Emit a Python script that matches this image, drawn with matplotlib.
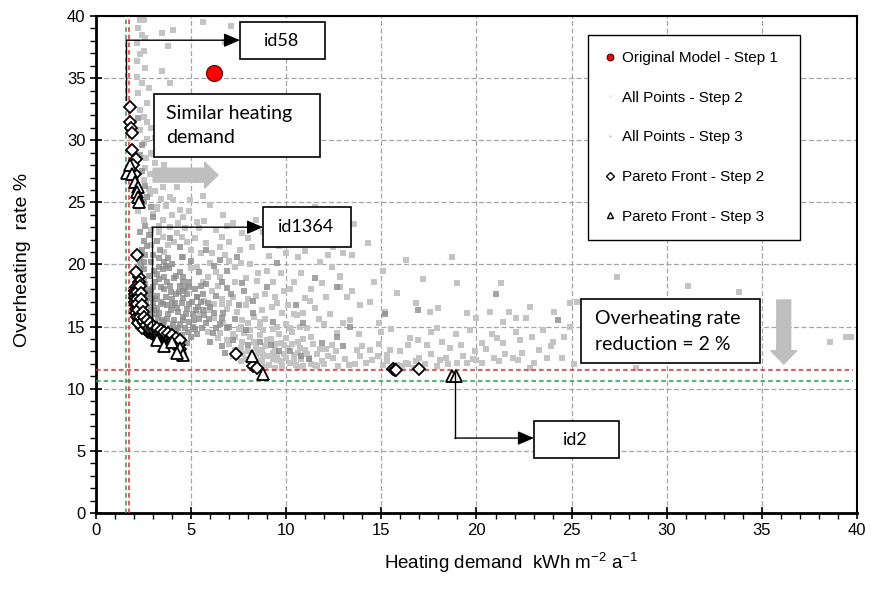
import matplotlib
matplotlib.use("Agg")
import matplotlib.pyplot as plt
import numpy as np
from matplotlib.lines import Line2D
from matplotlib.patches import Rectangle
from matplotlib.ticker import MultipleLocator

plt.rcParams["font.family"] = ["Liberation Sans", "DejaVu Sans"]
plt.rcParams["mathtext.default"] = "regular"
BOXFONT = ["Lato", "DejaVu Sans"]

# --- data ---
original_model = (6.2, 35.4)

all_step2 = [
    # upper band near the vertical reference
    (2.3, 39.7), (2.5, 39.7), (3.47, 38.6), (4.05, 38.9), (2.15, 37.8), (2.5, 37.2),
    (3.8, 37.6), (3.45, 35.6), (3.9, 34.6), (2.15, 36.4), (2.15, 35.1), (2.2, 33.8),
    (4.25, 33.2), (2.3, 32.4), (2.3, 30.8), (2.5, 29.8), (2.65, 28.6), (2.85, 27.3),
    (2.5, 26.8), (2.85, 25.7), (3.5, 26.2), (3.9, 25.4), (4.25, 26.2), (4.05, 25.2),
    (3.2, 24.6), (4.4, 24.4), (4.95, 25.2), (4.6, 23.8), (2.7, 31.5), (2.9, 29.0),
    (3.1, 28.2), (2.6, 27.8), (3.3, 27.0), (5.6, 25.5), (5.2, 26.8), (6.0, 24.8),
    (2.4, 38.5), (5.6, 39.5), (7.1, 39.2), (6.8, 37.9), (2.8, 34.2),
    (2.2, 39.0), (2.6, 38.2), (2.3, 36.9), (2.6, 35.8), (2.4, 34.6), (2.7, 33.0),
    (2.5, 31.9), (2.9, 31.0), (3.1, 30.2), (2.7, 30.1), (3.4, 29.4), (3.0, 28.9),
    (3.6, 28.0), (2.8, 26.1), (3.1, 25.9), (3.4, 25.3), (3.7, 24.7), (3.0, 24.1),
    (3.5, 23.6), (4.0, 24.0), (4.9, 24.3), (5.3, 23.4), (2.9, 22.8), (3.3, 23.1),
    (2.5, 23.6), (2.2, 24.3),
    # middle cloud
    (3.2, 24.5), (3.5, 22.2), (3.9, 23.0), (4.25, 22.5), (4.8, 21.8), (5.8, 21.7),
    (6.67, 24.0), (7.2, 23.3), (6.6, 22.2), (7.0, 21.8), (7.57, 21.2), (6.1, 20.9),
    (8.1, 20.0), (9.0, 19.5), (8.46, 18.7), (7.2, 17.4), (9.25, 16.6), (9.8, 16.1),
    (10.56, 15.9), (11.25, 17.1), (12.1, 17.4), (11.0, 17.3), (12.8, 19.0), (13.56, 23.25),
    (13.0, 20.9), (13.45, 20.75), (12.45, 21.4), (8.6, 15.0), (7.7, 15.5), (10.2, 18.0),
    (11.8, 20.2), (9.6, 21.5), (8.8, 22.6), (10.5, 23.5), (11.4, 22.0), (12.3, 16.0),
    (13.2, 17.4), (13.9, 16.7), (14.4, 17.0), (13.35, 15.5), (13.0, 15.3), (12.66, 14.5),
    (14.0, 13.4), (14.4, 13.1), (12.45, 12.5), (5.3, 19.8), (4.6, 20.6), (5.9, 19.0),
    (6.4, 18.3), (7.9, 18.9), (8.9, 17.6), (9.9, 17.9), (10.8, 19.3), (6.2, 16.8),
    (6.9, 16.4), (7.5, 14.8), (8.1, 14.2), (10.3, 14.6), (11.1, 14.9), (11.7, 15.6),
    (3.6, 21.0), (4.1, 21.8), (4.7, 22.9), (5.2, 22.1), (5.5, 20.9), (6.0, 20.1),
    (6.3, 19.4), (6.8, 20.8), (7.3, 19.8), (7.6, 20.1), (5.0, 19.7), (5.6, 18.6),
    (6.1, 17.9), (6.6, 17.2), (7.0, 16.9), (7.4, 16.2), (7.9, 16.7), (8.4, 17.5),
    (5.7, 17.1), (6.2, 15.7), (6.7, 15.3), (7.2, 14.4), (5.9, 14.6), (6.4, 14.1),
    (8.0, 15.3), (8.9, 15.6), (9.5, 16.9), (10.0, 15.2), (10.4, 16.0), (8.5, 19.3),
    (9.3, 18.6), (10.6, 20.6), (11.9, 18.5), (12.4, 19.8), (4.3, 23.3), (5.7, 23.5),
    (6.3, 22.8), (8.2, 21.4), (9.1, 23.9), (10.1, 22.1), (12.0, 23.0), (11.5, 24.6),
    (14.3, 21.7), (12.9, 22.6), (15.1, 19.5), (16.3, 20.4), (14.9, 15.3), (13.8, 14.4),
    (12.1, 13.2), (11.3, 14.2), (13.3, 11.9), (12.7, 11.8), (14.2, 12.1),
    (2.9, 21.6), (3.3, 22.6), (3.8, 21.6), (4.5, 22.2), (5.0, 21.2), (5.4, 22.9),
    (6.5, 21.4), (6.9, 23.1), (7.7, 22.5), (8.4, 23.6), (8.0, 22.1), (7.0, 20.3),
    (6.5, 19.0), (7.3, 18.6), (8.0, 17.2), (8.7, 16.3), (9.4, 17.4), (10.1, 16.7),
    (10.9, 16.1), (11.5, 16.5), (12.0, 15.2), (11.3, 18.0), (10.4, 18.6), (9.7, 19.3),
    (9.1, 20.7), (10.0, 20.9), (11.0, 21.1), (12.2, 20.8), (5.4, 16.0), (5.9, 16.3),
    (6.6, 16.8), (7.6, 15.0), (8.3, 15.8), (9.5, 15.0), (10.7, 15.0), (6.9, 13.9),
    (6.5, 14.5),
    # light cluster 7-12
    (7.0, 13.6), (7.3, 14.2), (7.6, 13.3), (7.8, 14.5), (8.0, 13.0), (8.3, 13.8),
    (8.5, 12.9), (8.6, 14.3), (8.9, 13.4), (9.0, 12.6), (9.2, 14.0), (9.4, 13.1),
    (9.5, 12.3), (9.7, 13.7), (9.9, 12.8), (10.1, 13.3), (10.2, 12.1), (10.4, 12.7),
    (10.6, 13.8), (10.8, 12.4), (11.0, 13.1), (11.3, 12.0), (11.6, 12.8), (11.9, 12.2),
    (8.7, 12.2), (9.1, 11.9), (9.8, 11.8), (10.5, 11.9), (7.9, 12.4), (8.2, 12.1),
    (9.6, 14.4), (10.0, 14.1), (8.4, 13.3), (9.3, 12.9), (10.7, 13.3), (11.4, 13.6),
    (7.4, 12.9), (8.8, 14.7), (9.0, 13.9), (10.3, 13.6),
    (7.2, 12.6), (7.6, 12.2), (8.1, 11.8), (8.9, 11.75), (9.3, 12.4), (9.7, 12.2),
    (10.0, 12.5), (10.9, 11.8), (11.6, 11.8), (12.2, 12.6), (11.1, 12.8), (10.6, 12.9),
    (9.9, 13.5), (9.4, 13.6), (8.7, 13.1), (8.2, 12.7), (7.7, 13.8), (8.1, 14.7),
    (7.3, 13.1), (12.4, 13.5), (11.8, 13.2), (10.9, 14.0), (10.2, 14.9), (9.3, 14.8),
    (8.6, 15.4), (7.7, 12.8), (8.4, 12.5), (8.8, 12.7), (9.5, 12.7), (10.4, 12.3),
    (11.2, 12.5), (12.0, 12.0), (12.6, 13.0), (13.1, 12.4), (13.7, 13.1), (11.5, 11.9),
    (10.6, 11.75), (9.4, 11.7), (13.9, 12.6),
    # right tail
    (12.8, 19.1), (12.8, 18.2), (13.45, 17.9), (15.2, 16.2), (16.8, 16.9), (17.55, 16.2),
    (18.0, 16.5), (16.5, 14.1), (17.4, 13.5), (19.0, 18.5), (19.5, 16.1), (20.0, 15.7),
    (20.7, 16.2), (19.65, 14.7), (20.3, 13.7), (21.4, 15.4), (21.3, 18.5), (22.8, 16.6),
    (22.1, 15.7), (22.6, 15.7), (22.1, 14.6), (22.3, 13.9), (22.9, 14.2), (23.5, 14.7),
    (24.1, 16.2), (21.4, 13.7), (21.9, 12.5), (20.9, 12.5), (20.3, 12.1), (23.3, 13.1),
    (23.7, 12.5), (24.5, 12.5), (24.9, 15.0), (24.9, 16.9), (25.3, 17.0), (27.4, 19.0),
    (22.8, 11.7), (16.4, 13.5), (15.45, 13.1), (18.4, 12.5), (19.0, 12.1), (19.5, 12.05),
    (18.1, 12.3), (17.0, 12.5), (16.3, 12.1), (15.8, 11.9), (16.1, 11.8), (16.4, 12.0),
    (16.7, 11.7), (15.3, 12.2), (14.8, 12.6), (13.6, 12.0), (31.1, 18.3), (33.8, 17.8),
    (38.6, 13.8), (39.4, 14.2), (39.7, 14.2), (28.4, 11.7), (25.8, 13.2), (26.5, 12.4),
    (15.0, 14.6), (17.9, 14.9), (18.6, 13.3), (19.9, 13.0), (20.8, 14.4), (14.6, 18.6),
    (15.8, 17.7), (17.2, 18.8), (18.7, 20.6), (23.9, 13.4),
    (14.9, 13.6), (15.5, 14.8), (16.0, 13.0), (16.9, 13.9), (17.6, 14.6), (18.2, 13.8),
    (18.9, 14.4), (19.2, 13.5), (20.5, 13.2), (21.1, 14.1), (21.7, 16.2), (22.4, 12.9),
    (23.0, 12.1), (24.0, 13.8), (24.6, 14.2), (26.8, 14.6), (27.6, 13.4), (28.8, 16.0),
    (30.2, 12.9), (32.4, 13.7), (34.6, 12.4), (15.1, 11.9), (17.3, 12.0), (17.9, 11.85),
    (21.2, 12.2), (19.8, 12.4), (25.1, 12.0), (14.5, 12.3), (15.3, 12.7), (16.8, 12.2),
    (17.6, 12.8), (18.5, 12.0), (19.3, 12.6), (20.0, 12.3), (21.5, 12.8), (22.2, 12.3),
]

all_step3 = [
    # dense zone right of the front
    (2.3, 20.3), (2.5, 19.6), (2.4, 18.9), (2.6, 18.4), (2.8, 19.1), (2.5, 17.8),
    (2.7, 17.3), (2.9, 17.9), (3.1, 18.6), (2.6, 16.7), (2.8, 16.2), (3.0, 16.9),
    (3.2, 17.5), (3.4, 18.2), (2.9, 15.7), (3.1, 15.3), (3.3, 16.1), (3.5, 16.8),
    (3.7, 17.4), (3.2, 14.9), (3.4, 14.6), (3.6, 15.4), (3.8, 16.0), (4.0, 16.7),
    (3.7, 14.3), (3.9, 14.9), (4.1, 15.5), (4.3, 16.2), (4.0, 14.1), (4.2, 14.7),
    (4.4, 15.2), (4.6, 15.8), (4.5, 14.3), (4.7, 14.9), (4.9, 15.4), (5.0, 14.2),
    (5.2, 14.8), (5.4, 15.6), (3.6, 19.0), (3.9, 18.3), (4.2, 17.6), (4.5, 16.9),
    (4.8, 16.4), (5.1, 16.0), (3.3, 19.8), (3.0, 20.8), (2.7, 21.5), (3.8, 20.5),
    (4.4, 19.4), (4.9, 18.6), (5.3, 17.4), (5.6, 16.3), (5.8, 15.3), (5.1, 15.0),
    (6.15, 14.5), (6.5, 15.2), (2.35, 17.1), (2.4, 16.3), (2.45, 15.6), (2.7, 15.0),
    (2.95, 14.5), (3.35, 14.1), (3.8, 13.8), (4.3, 13.6), (4.8, 13.7),
    (2.35, 19.8), (2.6, 20.8), (2.9, 20.2), (3.2, 19.2), (3.5, 19.6), (3.4, 17.0),
    (3.6, 18.0), (3.0, 18.2), (2.8, 17.6), (2.55, 16.2), (2.75, 15.8), (3.05, 16.3),
    (3.25, 15.7), (3.5, 15.1), (3.75, 15.6), (3.95, 16.3), (4.15, 16.9), (4.35, 17.8),
    (4.6, 17.3), (4.75, 16.0), (4.55, 15.5), (4.3, 14.9), (4.05, 15.2), (3.55, 14.7),
    (3.85, 14.5), (4.85, 14.6), (5.15, 15.5), (5.35, 16.6), (5.55, 14.9), (5.7, 15.9),
    (5.05, 17.0), (3.85, 19.7), (4.1, 18.9), (4.7, 18.1), (5.5, 18.3), (6.0, 16.6),
    (6.3, 14.9), (2.45, 18.4), (2.3, 19.2), (2.65, 17.0), (2.9, 16.6), (3.15, 16.0),
    (3.3, 18.8), (3.1, 17.2), (2.55, 20.2), (2.4, 21.2), (3.6, 20.2), (4.0, 17.2),
    (4.4, 18.3),
    (2.25, 18.1), (2.5, 18.7), (2.75, 18.0), (3.05, 19.5), (3.3, 20.5), (3.7, 19.9),
    (4.0, 20.0), (4.2, 19.1), (4.6, 18.6), (4.8, 17.6), (5.2, 18.0), (5.6, 17.6),
    (5.9, 16.9), (6.2, 16.1), (6.6, 15.7), (6.9, 14.9), (5.95, 15.6), (5.3, 14.4),
    (4.6, 13.9), (4.1, 14.4), (3.45, 15.5), (3.2, 16.5), (2.95, 17.3), (3.75, 16.7),
    (4.25, 16.5), (4.9, 16.8), (5.25, 16.3), (5.5, 17.0), (3.95, 17.8), (3.75, 18.6),
    (4.55, 17.9), (5.8, 18.4), (6.3, 17.5), (6.6, 18.6), (7.1, 17.6), (7.5, 16.7),
    (7.3, 15.6), (7.8, 17.9), (6.2, 19.9), (5.4, 19.4), (5.0, 20.3), (4.5, 20.6),
    (3.2, 21.9), (3.9, 22.1), (2.8, 22.4), (7.2, 13.9), (7.9, 14.7), (8.6, 13.8),
    (9.2, 13.5), (10.2, 13.0), (11.2, 12.4), (6.8, 12.9),
    # scattered in the cloud
    (4.6, 19.0), (4.9, 18.2), (5.3, 17.4), (4.4, 21.4), (3.36, 21.2), (6.5, 20.4),
    (7.7, 18.5), (9.0, 18.2), (8.25, 16.1), (7.0, 15.0), (6.7, 16.1), (6.9, 19.5),
    (8.25, 17.1), (11.5, 18.9), (12.66, 18.2), (12.66, 14.2), (11.9, 13.7), (13.35, 15.0),
    (6.9, 18.1), (5.8, 21.2), (7.4, 20.6), (9.5, 20.1), (10.5, 16.7), (13.0, 13.4),
    (15.2, 16.0), (16.9, 16.3), (21.0, 17.6), (26.0, 16.4), (29.5, 14.0), (24.3, 15.5),
    (9.3, 15.4), (10.9, 15.3), (8.0, 13.5), (9.6, 13.0), (10.8, 12.6), (6.0, 13.8),
    (6.6, 13.4),
    # upper band
    (2.3, 28.8), (2.4, 27.5), (2.6, 26.3), (2.7, 25.4), (2.9, 24.6), (2.5, 25.0),
    (2.4, 29.6), (2.2, 31.8), (3.0, 23.8), (2.6, 23.1), (2.3, 22.6), (2.5, 21.9),
]

pareto_step2 = [
    (1.79, 32.7), (1.79, 31.5), (1.84, 31.0), (1.89, 30.6), (1.89, 29.2), (2.1, 28.5),
    (2.05, 27.3), (1.95, 28.0),
    (2.15, 20.75), (2.26, 19.0), (2.26, 18.6), (2.1, 18.2), (2.05, 17.9), (2.05, 17.6),
    (2.05, 17.3), (2.05, 17.0), (2.08, 16.7), (2.1, 16.4), (2.12, 16.1), (2.18, 15.8),
    (2.25, 15.5), (2.35, 15.2), (2.5, 15.0), (2.6, 14.8), (2.75, 14.6), (2.9, 14.5),
    (3.05, 14.4), (3.2, 14.3), (3.35, 14.2), (3.5, 14.1), (3.65, 14.0), (3.8, 13.9),
    (3.95, 13.8), (4.1, 13.6), (4.25, 13.4), (4.4, 13.2), (2.4, 14.9), (2.2, 15.3),
    (2.2, 18.0), (2.2, 17.5), (2.2, 17.0), (2.25, 16.5), (2.3, 16.0), (2.4, 15.6),
    (2.55, 15.3), (2.7, 15.0), (2.85, 14.8), (3.0, 14.7), (3.15, 14.55), (3.3, 14.45),
    (3.45, 14.35), (3.6, 14.25), (3.75, 14.15), (3.9, 14.05), (4.05, 13.9), (4.2, 13.75),
    (4.35, 13.55), (2.15, 17.75), (2.15, 17.25), (2.17, 16.85), (2.2, 16.3), (2.3, 15.8),
    (2.45, 15.45), (2.65, 15.15), (2.8, 14.9), (2.95, 14.85), (2.1, 19.4),
    (2.3, 18.3), (2.35, 17.7), (2.35, 17.2), (2.4, 16.7), (2.45, 16.2), (2.55, 15.8),
    (2.7, 15.5), (2.85, 15.25), (3.0, 15.05), (3.2, 14.9), (3.4, 14.75), (3.6, 14.6),
    (3.8, 14.45), (4.0, 14.3), (4.2, 14.1), (4.4, 13.9),
    (7.36, 12.8), (8.25, 11.8), (8.46, 11.65), (15.6, 11.55), (15.7, 11.5), (15.75, 11.52),
    (17.0, 11.55),
]

pareto_step3 = [
    (1.63, 27.4), (1.79, 28.0), (1.89, 27.3), (2.05, 26.6), (2.2, 26.2), (2.15, 25.8),
    (2.2, 25.4), (2.26, 25.0),
    (3.2, 13.9), (3.6, 13.4), (4.0, 13.8), (4.4, 13.3), (4.6, 12.7), (4.25, 12.9),
    (8.2, 12.6), (8.8, 11.2), (18.7, 11.0), (18.9, 11.0),
]

ref_x_red, ref_x_green = 1.71, 1.58
ref_y_red, ref_y_green = 11.5, 10.62

s2 = np.array(all_step2)
s3 = np.array(all_step3)
p2 = np.array(pareto_step2)
p3 = np.array(pareto_step3)

fig = plt.figure(figsize=(8.71, 5.94), dpi=100)
ax = fig.add_axes([0.1102, 0.1364, 0.8737, 0.8367])
ax.set_xlim(0, 40)
ax.set_ylim(0, 40)

ax.grid(True, color="#a6a6a6", linestyle=(0, (4, 2)), lw=0.9, zorder=0)
ax.set_axisbelow(True)

ax.scatter(s2[:, 0], s2[:, 1], marker="s", s=15, color="#c4c4c4", lw=0, zorder=2)
ax.scatter(s3[:, 0], s3[:, 1], marker="s", s=15, color="#8c8c8c", alpha=0.8, lw=0, zorder=3)

ax.axvline(ref_x_green, color="#1fa34a", ls=(0, (3, 2)), lw=1.1, zorder=4)
ax.axvline(ref_x_red, color="#ff2020", ls=(0, (3, 2)), lw=1.1, zorder=4)
ax.plot([0, 39.8], [ref_y_red, ref_y_red], color="#ff2020", ls=(0, (3, 2)), lw=1.1, zorder=4)
ax.plot([0, 39.8], [ref_y_green, ref_y_green], color="#1fa34a", ls=(0, (3, 2)), lw=1.1, zorder=4)

ax.plot(p2[:, 0], p2[:, 1], "D", ms=6, mfc="white", mec="black", mew=1.3, ls="none", zorder=5)
ax.plot(p3[:, 0], p3[:, 1], "^", ms=8.5, mfc="white", mec="black", mew=1.3, ls="none", zorder=6)
ax.plot(*original_model, "o", ms=11.5, mfc="#ff0000", mec="#600000", mew=0.8, zorder=7)

# --- annotation boxes ---
def box(x0, x1, y0, y1):
    ax.add_patch(Rectangle((x0, y0), x1 - x0, y1 - y0, fc="white", ec="black", lw=1.2, zorder=9))


box(7.57, 12.03, 36.52, 39.5)
ax.text(9.77, 37.97, "id58", ha="center", va="center", fontsize=13, family=BOXFONT, zorder=10)
box(3.05, 11.77, 28.64, 33.71)
ax.text(3.68, 32.18, "Similar heating", ha="left", va="center", fontsize=14, family=BOXFONT, zorder=10)
ax.text(3.68, 30.25, "demand", ha="left", va="center", fontsize=14, family=BOXFONT, zorder=10)
box(8.78, 13.4, 21.4, 24.62)
ax.text(11.06, 23.01, "id1364", ha="center", va="center", fontsize=13, family=BOXFONT, zorder=10)
box(23.02, 27.48, 4.42, 7.40)
ax.text(25.22, 5.87, "id2", ha="center", va="center", fontsize=13, family=BOXFONT, zorder=10)
box(25.49, 34.89, 12.07, 17.22)
ax.text(26.22, 15.69, "Overheating rate", ha="left", va="center", fontsize=14, family=BOXFONT, zorder=10)
ax.text(26.22, 13.52, "reduction = 2 %", ha="left", va="center", fontsize=14, family=BOXFONT, zorder=10)

# connector arrows
arrow_kw = dict(arrowstyle="-|>,head_length=0.7,head_width=0.3", color="black", lw=1.0,
                shrinkA=0, shrinkB=0, mutation_scale=14)
ax.plot([1.58, 1.58], [33.2, 38.05], color="black", lw=1.0, zorder=8)
ax.annotate("", xy=(7.57, 38.05), xytext=(1.58, 38.05), arrowprops=arrow_kw, zorder=8)
ax.plot([2.94, 2.94], [13.9, 23.0], color="black", lw=1.0, zorder=8)
ax.annotate("", xy=(8.78, 23.0), xytext=(2.94, 23.0), arrowprops=arrow_kw, zorder=8)
ax.plot([18.87, 18.87], [11.26, 6.03], color="black", lw=1.0, zorder=8)
ax.annotate("", xy=(23.02, 6.03), xytext=(18.87, 6.03), arrowprops=arrow_kw, zorder=8)

# big gray arrows
gray_kw = dict(arrowstyle="simple,head_length=0.95,head_width=1.85,tail_width=1.0",
               color="#bfbfbf", shrinkA=0, shrinkB=0, mutation_scale=10)
ax.annotate("", xy=(6.41, 27.19), xytext=(3.0, 27.19), arrowprops=gray_kw, zorder=8)
ax.annotate("", xy=(36.15, 11.99), xytext=(36.15, 17.14), arrowprops=gray_kw, zorder=8)

# --- axes styling ---
ax.xaxis.set_major_locator(MultipleLocator(5))
ax.yaxis.set_major_locator(MultipleLocator(5))
ax.xaxis.set_minor_locator(MultipleLocator(1))
ax.yaxis.set_minor_locator(MultipleLocator(1))
ax.tick_params(which="major", direction="inout", length=8, width=1.2, labelsize=12, color="black")
ax.tick_params(which="minor", direction="out", length=4, width=1.0, color="black")
for side in ("left", "bottom"):
    ax.spines[side].set_linewidth(2.0)
for side in ("top", "right"):
    ax.spines[side].set_linewidth(1.5)

ax.set_xlabel("Heating demand  kWh m$^{-2}$ a$^{-1}$", fontsize=13.5)
ax.xaxis.set_label_coords(0.545, -0.076)
ax.set_ylabel("Overheating  rate %", fontsize=14)
ax.yaxis.set_label_coords(-0.086, 0.509)

# --- legend ---
handles = [
    Line2D([], [], marker="o", ls="none", ms=5, mfc="#ff0000", mec="black", mew=0.6),
    Line2D([], [], marker="s", ls="none", ms=2, mfc="#dcdcdc", mec="none"),
    Line2D([], [], marker="s", ls="none", ms=2, mfc="#c0c0c0", mec="none"),
    Line2D([], [], marker="D", ls="none", ms=3.8, mfc="white", mec="black", mew=1.0),
    Line2D([], [], marker="^", ls="none", ms=5, mfc="white", mec="black", mew=1.0),
]
labels = ["Original Model - Step 1", "All Points - Step 2", "All Points - Step 3",
          "Pareto Front - Step 2", "Pareto Front - Step 3"]
leg = ax.legend(handles, labels, loc="upper left", bbox_to_anchor=(0.6465, 0.551, 0.2786, 0.411),
                mode="expand", fontsize=11, frameon=True, fancybox=False, edgecolor="black",
                framealpha=1, labelspacing=1.68, handlelength=0.8, handletextpad=0.4,
                borderpad=1.05, borderaxespad=0)
leg.get_frame().set_linewidth(1.0)
leg.set_zorder(11)

fig.savefig("out.png", dpi=100)
